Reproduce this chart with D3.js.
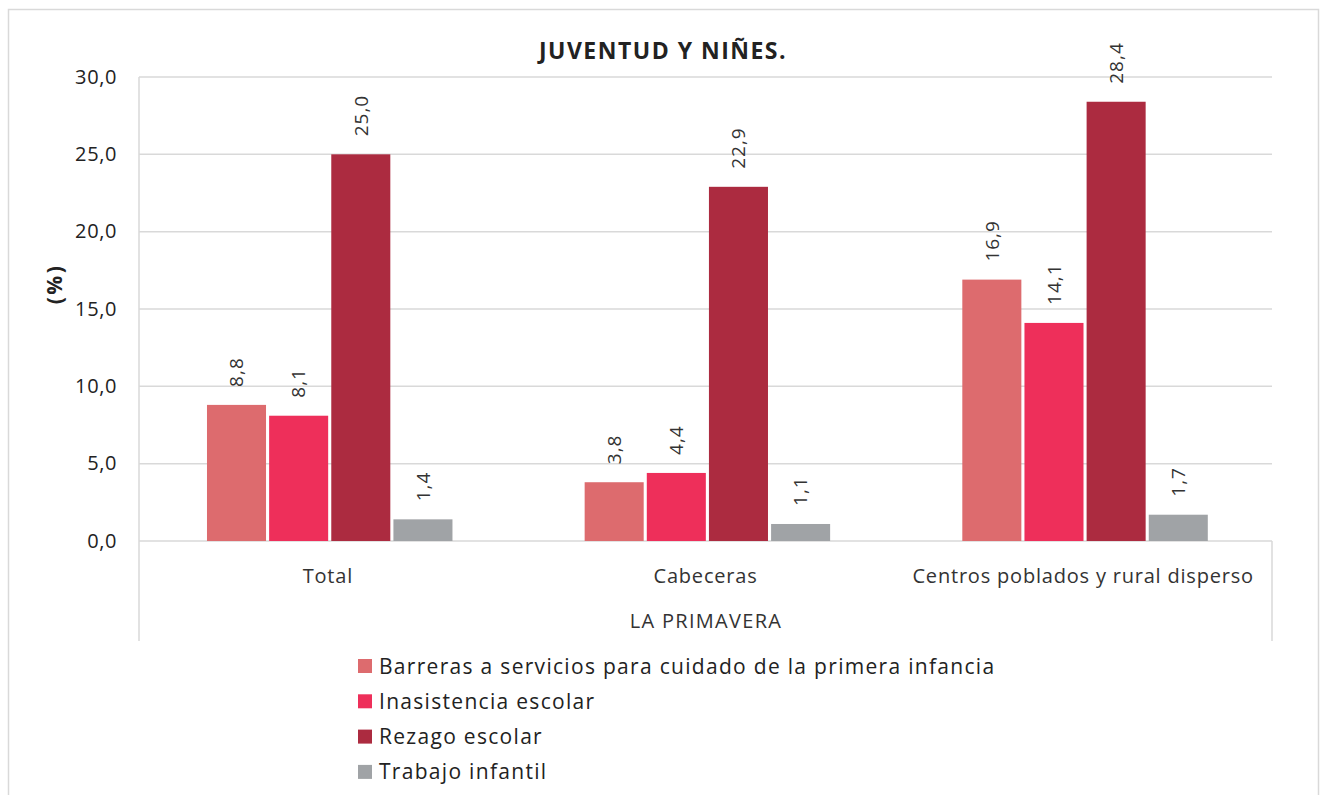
<!DOCTYPE html>
<html>
<head>
<meta charset="utf-8">
<script src="https://cdn.jsdelivr.net/npm/d3@7"></script>
<style>
  body { margin: 0; background: #fff; }
  svg { display: block; font-family: "Open Sans", "Noto Sans", sans-serif; }
</style>
</head>
<body>
<svg id="chart" width="1320" height="795"></svg>
<script>
const title = "JUVENTUD Y NIÑES.";
const yAxisLabel = "(%)";
const groupLabel = "LA PRIMAVERA";
const categories = ["Total", "Cabeceras", "Centros poblados y rural disperso"];
const seriesNames = [
  "Barreras a servicios para cuidado de la primera infancia",
  "Inasistencia escolar",
  "Rezago escolar",
  "Trabajo infantil"
];
const barreras = [8.8, 3.8, 16.9];
const inasistencia = [8.1, 4.4, 14.1];
const rezago = [25.0, 22.9, 28.4];
const trabajo = [1.4, 1.1, 1.7];
const yTicks = [0, 5, 10, 15, 20, 25, 30];
const colors = ["#dd6b6e", "#ee2f5a", "#ac2b40", "#a0a3a6"];

const seriesValues = [barreras, inasistencia, rezago, trabajo];
const fmt = v => d3.format(".1f")(v).replace(".", ",");

const svg = d3.select("#chart");
const pLeft = 139, pRight = 1272, pTop = 77, pBottom = 541;

// outer border
svg.append("rect").attr("x", 8.5).attr("y", 9.5).attr("width", 1310).attr("height", 800)
  .attr("fill", "none").attr("stroke", "#d9d9d9").attr("stroke-width", 1.5);

const x0 = d3.scaleBand().domain(categories).range([pLeft, pRight]).padding(0);
const x1 = d3.scaleBand().domain(seriesNames)
  .range([x0.bandwidth() * 0.18, x0.bandwidth() * 0.83]).paddingInner(0.05);
const y = d3.scaleLinear().domain([0, 30]).range([pBottom, pTop]);

// gridlines
svg.append("g").selectAll("line").data(yTicks).join("line")
  .attr("x1", pLeft).attr("x2", pRight)
  .attr("y1", d => y(d)).attr("y2", d => y(d))
  .attr("stroke", "#d9d9d9").attr("stroke-width", 1.5);

// y axis
const yAxis = d3.axisLeft(y).tickValues(yTicks).tickFormat(fmt).tickSize(0).tickPadding(22);
const yg = svg.append("g").attr("transform", `translate(${pLeft},0)`).call(yAxis);
yg.select(".domain").remove();
yg.selectAll("text").attr("font-size", 20).attr("letter-spacing", 0.6).attr("fill", "#222")
  .attr("font-family", "Open Sans").attr("dy", "0.3em");

// axis frame lines
svg.append("line").attr("x1", pLeft).attr("x2", pLeft).attr("y1", pTop).attr("y2", 641)
  .attr("stroke", "#d9d9d9").attr("stroke-width", 1.5);
svg.append("line").attr("x1", pRight).attr("x2", pRight).attr("y1", pBottom).attr("y2", 641)
  .attr("stroke", "#d9d9d9").attr("stroke-width", 1.5);

// bars
const groups = svg.append("g").selectAll("g").data(categories).join("g")
  .attr("transform", d => `translate(${x0(d)},0)`);
groups.selectAll("rect")
  .data((c, ci) => seriesNames.map((s, si) => ({ s, si, v: seriesValues[si][ci] })))
  .join("rect")
  .attr("x", d => x1(d.s)).attr("width", x1.bandwidth())
  .attr("y", d => y(d.v)).attr("height", d => y(0) - y(d.v))
  .attr("fill", d => colors[d.si]);

// data labels
groups.selectAll("text.lbl")
  .data((c, ci) => seriesNames.map((s, si) => ({ s, si, v: seriesValues[si][ci] })))
  .join("text").attr("class", "lbl")
  .attr("transform", d => `translate(${x1(d.s) + x1.bandwidth() / 2},${y(d.v) - 18}) rotate(-90)`)
  .attr("text-anchor", "start").attr("dy", "0.36em")
  .attr("font-size", 19).attr("letter-spacing", 1).attr("fill", "#333")
  .text(d => fmt(d.v));

// category axis labels
const xAxis = d3.axisBottom(x0).tickSize(0).tickPadding(0);
const xg = svg.append("g").attr("transform", `translate(0,${pBottom})`).call(xAxis);
xg.select(".domain").remove();
xg.selectAll("text").attr("font-size", 20).attr("letter-spacing", 0.8).attr("fill", "#333")
  .attr("font-family", "Open Sans").attr("dy", 0).attr("y", 42);

svg.append("text").attr("x", 706).attr("y", 628)
  .attr("text-anchor", "middle").attr("font-size", 20).attr("letter-spacing", 1.3)
  .attr("fill", "#333").text(groupLabel);

// title
svg.append("text").attr("x", 663).attr("y", 59).attr("text-anchor", "middle")
  .attr("font-size", 23).attr("letter-spacing", 1.5).attr("font-weight", "bold")
  .attr("fill", "#222").text(title);

// y label
svg.append("text").attr("transform", "translate(62,284) rotate(-90)").attr("text-anchor", "middle")
  .attr("font-size", 21).attr("letter-spacing", 2.5).attr("font-weight", "bold")
  .attr("fill", "#222").text(yAxisLabel);

// legend
const lg = svg.append("g").selectAll("g").data(seriesNames).join("g")
  .attr("transform", (d, i) => `translate(358,${666 + i * 35.3})`);
lg.append("rect").attr("x", 0).attr("y", -7).attr("width", 14).attr("height", 14)
  .attr("fill", (d, i) => colors[i]);
lg.append("text").attr("x", 21).attr("y", 7.5).attr("font-size", 21).attr("letter-spacing", 1.3)
  .attr("fill", "#222").text(d => d);
</script>
</body>
</html>
